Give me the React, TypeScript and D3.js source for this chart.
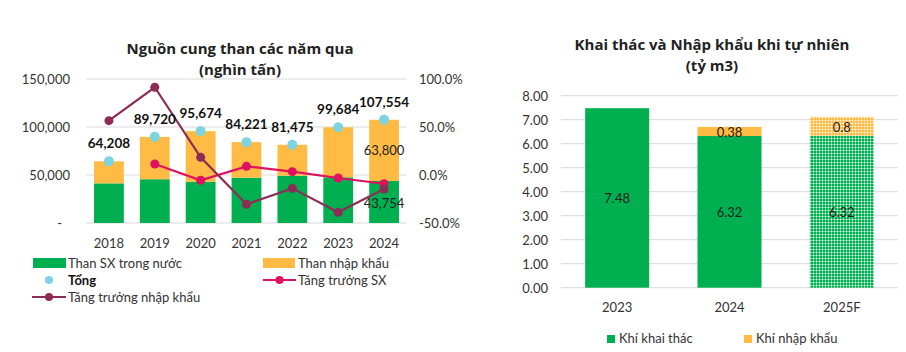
import React from 'react';
import * as d3 from 'd3';

// left chart: coal supply (thousand tonnes)
const years = ['2018', '2019', '2020', '2021', '2022', '2023', '2024'];
const coalDomestic = [41300, 45600, 43000, 47200, 49300, 47600, 43754];
const coalImport = [22908, 44120, 52674, 37021, 32175, 52084, 63800];
const coalTotal = [64208, 89720, 95674, 84221, 81475, 99684, 107554];
const growthSX: (number | null)[] = [null, 11.5, -5.5, 9.0, 3.5, -3.1, -9.1];
const growthImport = [56.6, 91.4, 18.4, -30.5, -13.9, -38.9, -14.6];
const leftTicks = [0, 50000, 100000, 150000];
const rightTicks = [-50, 0, 50, 100];

// right chart: natural gas (billion m3)
const gasYears = ['2023', '2024', '2025F'];
const gasMined = [7.48, 6.32, 6.32];
const gasImport = [0, 0.38, 0.8];
const gasTicks = [0, 1, 2, 3, 4, 5, 6, 7, 8];

const GREEN = '#00B050';
const ORANGE = '#FFBB44';
const CYAN = '#7DD3E0';
const CRIMSON = '#E0115F';
const MAROON = '#8E2C57';
const GRID = '#d9d9d9';
const TEXT = '#333333';
const FONT = 'Lato, "Noto Sans", sans-serif';
const TITLE_FONT = '"Open Sans", Lato, sans-serif';

const App = () => {
  const fmt = d3.format(',');

  const x = d3.scaleBand().domain(years).range([86, 407]).paddingInner(0.35).paddingOuter(0.175);
  const y = d3.scaleLinear().domain([0, 150000]).range([223, 79]);
  const yPct = d3.scaleLinear().domain([-50, 100]).range([223, 79]);
  const cx = (yr: string) => (x(yr) as number) + x.bandwidth() / 2;

  const lineSX = d3.line<number | null>()
    .defined(d => d !== null)
    .x((d, i) => cx(years[i]))
    .y(d => yPct(d as number));
  const lineImp = d3.line<number>()
    .x((d, i) => cx(years[i]))
    .y(d => yPct(d));

  const x2 = d3.scaleBand().domain(gasYears).range([561, 898]).paddingInner(0.43).paddingOuter(0.215);
  const y2 = d3.scaleLinear().domain([0, 8]).range([287.7, 95.7]);

  return (
    <svg width={906} height={352} style={{ position: 'absolute', left: 0, top: 0, background: '#fff' }}
      fontFamily={FONT}>
      <defs>
        <pattern id="pGreen" width={3} height={3} patternUnits="userSpaceOnUse">
          <rect width={3} height={3} fill={GREEN} />
          <rect x={0} y={0} width={3} height={1} fill="#6fd49c" />
          <rect x={0} y={0} width={1} height={3} fill="#6fd49c" />
          <rect x={0} y={0} width={1} height={1} fill="#e6f8ee" />
        </pattern>
        <pattern id="pOrange" width={3} height={3} patternUnits="userSpaceOnUse">
          <rect width={3} height={3} fill={ORANGE} />
          <rect x={0} y={0} width={3} height={1} fill="#ffd68c" />
          <rect x={0} y={0} width={1} height={3} fill="#ffd68c" />
          <rect x={0} y={0} width={1} height={1} fill="#fff5e2" />
        </pattern>
      </defs>

      {/* ---------- left chart ---------- */}
      <text x={240} y={54} textAnchor="middle" fontSize={15} fontWeight={700} fill="#222" fontFamily={TITLE_FONT}>Nguồn cung than các năm qua</text>
      <text x={240} y={75} textAnchor="middle" fontSize={15} fontWeight={700} fill="#222" fontFamily={TITLE_FONT}>(nghìn tấn)</text>

      {leftTicks.map(t => (
        <g key={t}>
          <line x1={86} x2={407} y1={y(t)} y2={y(t)} stroke={GRID} strokeWidth={1} />
          <text x={t === 0 ? 62 : 70} y={y(t) + 5} textAnchor="end" fontSize={13} fill={TEXT}>
            {t === 0 ? '-' : fmt(t)}
          </text>
        </g>
      ))}
      {rightTicks.map(t => (
        <text key={t} x={419} y={yPct(t) + 5} fontSize={13} fill={TEXT}>{t.toFixed(1)}%</text>
      ))}

      {years.map((yr, i) => (
        <g key={yr}>
          <rect x={x(yr)} y={y(coalDomestic[i])} width={x.bandwidth()} height={y(0) - y(coalDomestic[i])} fill={GREEN} />
          <rect x={x(yr)} y={y(coalDomestic[i] + coalImport[i])} width={x.bandwidth()}
            height={y(coalDomestic[i]) - y(coalDomestic[i] + coalImport[i])} fill={ORANGE} />
          <text x={cx(yr)} y={248} textAnchor="middle" fontSize={13} fill={TEXT}>{yr}</text>
        </g>
      ))}

      {years.map((yr, i) => (
        <circle key={'t' + yr} cx={cx(yr)} cy={y(coalTotal[i])} r={5} fill={CYAN} />
      ))}

      <path d={lineSX(growthSX) || ''} fill="none" stroke={CRIMSON} strokeWidth={2.2} />
      {growthSX.map((g, i) => g === null ? null : (
        <circle key={'s' + i} cx={cx(years[i])} cy={yPct(g)} r={4.5} fill={CRIMSON} />
      ))}
      <path d={lineImp(growthImport) || ''} fill="none" stroke={MAROON} strokeWidth={2.2} />
      {growthImport.map((g, i) => (
        <circle key={'m' + i} cx={cx(years[i])} cy={yPct(g)} r={4.5} fill={MAROON} />
      ))}

      {years.map((yr, i) => (
        <text key={'l' + yr} x={cx(yr)} y={y(coalTotal[i]) - 13} textAnchor="middle" fontSize={13.5}
          fontWeight={700} fill="#111">{fmt(coalTotal[i])}</text>
      ))}
      {/* inner labels for latest year */}
      <text x={cx('2024')} y={(y(coalDomestic[6]) + y(coalTotal[6])) / 2 + 5} textAnchor="middle" fontSize={13} fill="#222">
        {fmt(coalImport[6])}
      </text>
      <text x={cx('2024')} y={(y(coalDomestic[6]) + y(0)) / 2 + 6} textAnchor="middle" fontSize={13} fill="#222">
        {fmt(coalDomestic[6])}
      </text>

      {/* legend */}
      <rect x={33} y={258} width={33} height={10} fill={GREEN} />
      <text x={68} y={268} fontSize={13} fill={TEXT}>Than SX trong nước</text>
      <rect x={263} y={258} width={32} height={10} fill={ORANGE} />
      <text x={298} y={268} fontSize={13} fill={TEXT}>Than nhập khẩu</text>
      <circle cx={49} cy={280} r={4} fill={CYAN} />
      <text x={68} y={285} fontSize={13} fontWeight={700} fill="#111">Tổng</text>
      <line x1={263} x2={296} y1={280} y2={280} stroke={CRIMSON} strokeWidth={2.2} />
      <circle cx={279.5} cy={280} r={4} fill={CRIMSON} />
      <text x={298} y={285} fontSize={13} fill={TEXT}>Tăng trưởng SX</text>
      <line x1={32} x2={66} y1={297} y2={297} stroke={MAROON} strokeWidth={2.2} />
      <circle cx={49} cy={297} r={4} fill={MAROON} />
      <text x={68} y={302} fontSize={13} fill={TEXT}>Tăng trưởng nhập khẩu</text>

      {/* ---------- right chart ---------- */}
      <text x={712} y={50} textAnchor="middle" fontSize={15} fontWeight={700} fill="#222" fontFamily={TITLE_FONT}>Khai thác và Nhập khẩu khi tự nhiên</text>
      <text x={712} y={71} textAnchor="middle" fontSize={15} fontWeight={700} fill="#222" fontFamily={TITLE_FONT}>(tỷ m3)</text>

      {gasTicks.map(t => (
        <g key={t}>
          <line x1={561} x2={898} y1={y2(t)} y2={y2(t)} stroke={GRID} strokeWidth={1} />
          <text x={548} y={y2(t) + 5} textAnchor="end" fontSize={13} fill={TEXT}>{t.toFixed(2)}</text>
        </g>
      ))}

      {gasYears.map((yr, i) => {
        const bx = x2(yr) as number;
        const mid = bx + x2.bandwidth() / 2;
        const fc = yr.endsWith('F');
        return (
          <g key={yr}>
            <rect x={bx} y={y2(gasMined[i])} width={x2.bandwidth()} height={y2(0) - y2(gasMined[i])}
              fill={fc ? 'url(#pGreen)' : GREEN} />
            {gasImport[i] > 0 && (
              <rect x={bx} y={y2(gasMined[i] + gasImport[i])} width={x2.bandwidth()}
                height={y2(gasMined[i]) - y2(gasMined[i] + gasImport[i])} fill={fc ? 'url(#pOrange)' : ORANGE} />
            )}
            <text x={mid} y={y2(gasMined[i] / 2) + 5} textAnchor="middle" fontSize={13} fill="#222">{gasMined[i].toFixed(2)}</text>
            {gasImport[i] > 0 && (
              <text x={mid} y={y2(gasMined[i] + gasImport[i] / 2) + 6} textAnchor="middle" fontSize={13} fill="#222">
                {String(gasImport[i])}
              </text>
            )}
            <text x={mid} y={312} textAnchor="middle" fontSize={13} fill={TEXT}>{yr}</text>
          </g>
        );
      })}

      <rect x={607} y={335} width={8} height={8} fill={GREEN} />
      <text x={619} y={343} fontSize={13} fill={TEXT}>Khí khai thác</text>
      <rect x={744} y={335} width={8} height={8} fill={ORANGE} />
      <text x={756} y={343} fontSize={13} fill={TEXT}>Khí nhập khẩu</text>
    </svg>
  );
};

export default App;
